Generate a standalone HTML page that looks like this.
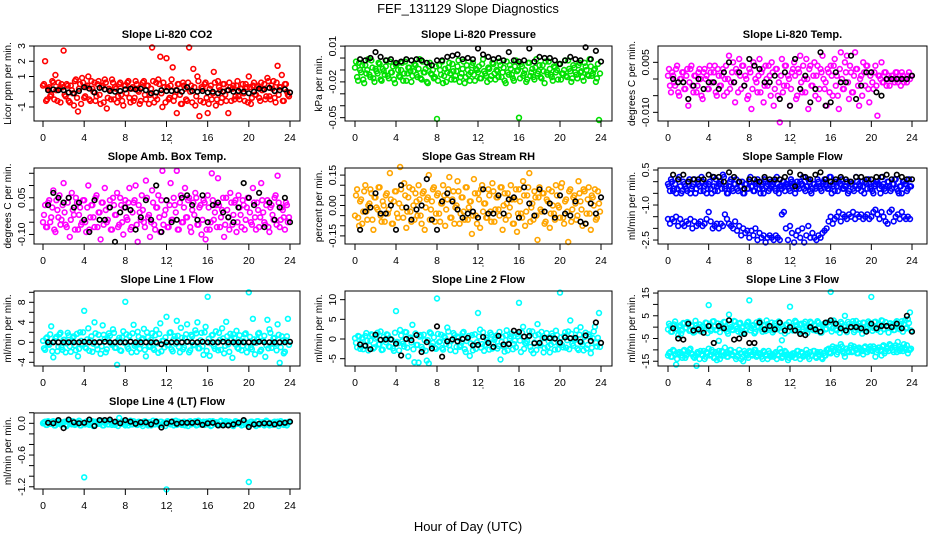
<!DOCTYPE html>
<html><head><meta charset="utf-8"><style>
html,body{margin:0;padding:0;background:#fff}
svg{display:block}
text{font-family:"Liberation Sans",Arial,sans-serif}
</style></head><body>
<svg id="c" width="936" height="540" viewBox="0 0 936 540" xmlns="http://www.w3.org/2000/svg">
<rect width="936" height="540" fill="#fff"/>
<text x="468" y="13" text-anchor="middle" font-size="13">FEF_131129  Slope Diagnostics</text>
<text x="468" y="531" text-anchor="middle" font-size="13">Hour of Day (UTC)</text>
</svg>
<script>
const xTicks=[0,4,8,12,16,20,24];
const panelTitles=["Slope Li-820 CO2","Slope Li-820 Pressure","Slope Li-820 Temp.","Slope Amb. Box Temp.","Slope Gas Stream RH","Slope Sample Flow","Slope Line 1 Flow","Slope Line 2 Flow","Slope Line 3 Flow","Slope Line 4 (LT) Flow"];
const yTitles=["Licor ppm per min.","kPa per min.","degrees C per min.","degrees C per min.","percent per min.","ml/min per min.","ml/min per min.","ml/min per min.","ml/min per min.","ml/min per min."];
const yTicks=[[3,2,1,0,-1],[0.01,0,-0.01,-0.02,-0.03,-0.04,-0.05],[0.005,0,-0.005,-0.010],[0.15,0.10,0.05,0,-0.05,-0.10],[0.15,0.10,0.05,0,-0.05,-0.10,-0.15],[0.5,0,-0.5,-1,-1.5,-2,-2.5],[10,8,6,4,2,0,-2,-4],[10,5,0,-5],[15,10,5,0,-5,-10,-15],[0.2,0,-0.2,-0.4,-0.6,-0.8,-1.0,-1.2]];
const yLabels=[['3','2','1','','-1'],['0.01','','','-0.02','','','-0.05'],['0.005','','','-0.010'],['','','0.05','','','-0.10'],['0.15','','','0.00','','','-0.15'],['0.5','','','-1.0','','','-2.5'],['','8','','4','','0','','-4'],['10','5','0','-5'],['15','','5','','-5','','-15'],['','0.0','','','-0.6','','','-1.2']];
const yLims=[[3.0,-1.92],[0.0101,-0.0528],[0.0099,-0.0126],[0.1716,-0.139],[0.185,-0.19],[0.586,-2.67],[10.26,-4.74],[12.2,-6.86],[15.9,-17.1],[0.195,-1.242]];

const co2=[0.4,2.0,-0.5,0.3,-0.2,0.6,1.1,-0.6,0.2,0.5,2.7,-0.3,0.4,-0.7,0.1,-0.9,0.8,-1.3,0.5,0.9,-0.4,0.3,1.0,-0.6,0.2,0.6,-0.3,0.7,-0.8,0.4,0.8,-1.1,0.2,-0.5,0.6,0.3,-0.7,0.5,-0.2,-0.9,0.4,0.6,-0.4,0.2,-0.6,0.7,0.1,-0.8,0.3,0.7,-0.5,0.4,-0.2,2.9,-0.7,0.6,0.8,2.3,-1.0,0.3,2.2,-0.5,0.4,1.6,-0.3,-1.4,0.5,-0.8,0.6,0.2,-0.6,2.9,0.4,1.5,-0.9,1.0,-1.6,0.3,-0.7,0.6,-1.4,0.2,-0.5,1.3,-0.9,0.7,0.1,-0.4,0.5,-0.6,-1.4,0.3,0.2,-0.5,0.4,-0.3,0.2,0.5,-0.6,0.3,1.0,-0.8,0.4,-0.2,0.3,-0.4,0.6,0.2,-0.5,0.9,-0.3,0.4,0.7,-0.7,1.7,0.3,1.1,-0.6,0.5,-0.2];
const co2B=[0.5,-0.6,0.2,-0.3,0.7,-0.5,0.1,0.6,-0.7,0.3,-0.2,0.5,-0.6,0.4,-0.1,0.7,-0.4,0.2,-0.8,0.6,-0.3,0.4,-0.5,0.7,0.0,-0.6,0.5,-0.2,0.3,-0.7,0.6,-0.4,0.1,0.8,-0.5,0.2,-0.3,0.6,-0.6,0.4,-0.1,0.7,-0.7,0.3,-0.4,0.5,0.0,-0.6,0.6,-0.2,0.4,-0.8,0.2,0.7,-0.3,-0.5,0.5,-0.1,0.6,-0.7,0.3,-0.4,0.8,-0.6,0.1,0.5,-0.2,-0.8,0.4,-0.5,0.6,0.0,-0.7,0.3,-0.3,0.7,-0.6,0.2,0.5,-0.4,-0.8,0.4,-0.1,0.6,-0.5,0.3,-0.7,0.5,-0.2,0.1,0.6,-0.6,0.4,-0.3,0.7,-0.5,0.2,-0.1,0.5,-0.7,0.3,-0.4,0.6,-0.2,0.4,-0.6,0.1,0.5,-0.3,0.7,-0.5,0.2,-0.4,0.6,-0.2,0.3,-0.6,0.5,0.0,-0.3];
const co2Avg=[0.1,0.15,0.1,0.1,-0.05,-0.1,0.05,0.3,0.2,-0.05,0.25,0.15,0.05,0.0,0.05,0.15,0.2,0.15,0.2,0.1,-0.1,-0.05,0.1,0.05,0.05,0.1,0.0,0.3,0.05,0.0,0.05,-0.05,0.0,-0.1,0.0,0.1,0.0,0.05,0.0,-0.1,0.0,0.2,0.15,0.25,0.05,0.1,0.15,-0.05];
const press=[-0.008,-0.016,-0.004,-0.012,-0.018,-0.006,-0.010,-0.014,-0.002,-0.017,-0.009,-0.013,-0.005,-0.019,-0.011,-0.007,-0.015,-0.003,-0.012,-0.018,-0.006,-0.010,-0.016,-0.004,-0.013,-0.019,-0.008,-0.011,-0.015,-0.005,-0.014,-0.009,-0.017,-0.003,-0.012,-0.020,-0.007,-0.013,-0.010,-0.016,-0.051,-0.006,-0.014,-0.021,-0.009,-0.012,-0.004,-0.018,-0.011,-0.015,-0.007,-0.020,-0.013,-0.003,-0.016,-0.010,-0.019,-0.006,-0.014,-0.009,-0.012,-0.017,-0.005,-0.011,-0.015,-0.008,-0.018,-0.004,-0.013,-0.010,-0.016,-0.006,-0.012,-0.019,-0.003,-0.014,-0.009,-0.017,-0.007,-0.011,-0.050,-0.005,-0.015,-0.010,-0.018,-0.004,-0.012,-0.016,-0.008,-0.013,-0.006,-0.017,-0.011,-0.003,-0.014,-0.009,-0.016,-0.007,-0.012,-0.018,-0.005,-0.013,-0.010,-0.015,-0.002,-0.011,-0.017,-0.008,-0.014,-0.006,-0.012,-0.016,-0.004,-0.010,-0.015,-0.007,-0.013,-0.009,-0.017,-0.052];
const pressB=[-0.003,-0.019,-0.010,-0.006,-0.021,-0.013,-0.001,-0.016,-0.008,-0.020,-0.011,-0.004,-0.018,-0.009,-0.014,-0.002,-0.017,-0.012,-0.007,-0.021,-0.005,-0.015,-0.010,-0.019,-0.003,-0.013,-0.008,-0.020,-0.011,-0.006,-0.016,-0.001,-0.018,-0.012,-0.009,-0.021,-0.004,-0.014,-0.017,-0.007,-0.019,-0.010,-0.003,-0.015,-0.020,-0.008,-0.013,-0.005,-0.018,-0.011,-0.002,-0.016,-0.009,-0.021,-0.006,-0.014,-0.012,-0.004,-0.019,-0.010,-0.007,-0.017,-0.001,-0.013,-0.020,-0.009,-0.015,-0.005,-0.018,-0.011,-0.003,-0.016,-0.008,-0.021,-0.012,-0.006,-0.014,-0.019,-0.002,-0.010,-0.017,-0.007,-0.013,-0.020,-0.004,-0.015,-0.009,-0.018,-0.001,-0.011,-0.016,-0.006,-0.021,-0.012,-0.003,-0.014,-0.019,-0.008,-0.010,-0.005,-0.018,-0.013,-0.002,-0.016,-0.009,-0.020,-0.006,-0.012,-0.017,-0.004,-0.011,-0.019,-0.007,-0.014,-0.001,-0.015,-0.010,-0.020,-0.005,-0.013];
const pressAvg=[-0.001,-0.002,0.000,0.005,0.001,-0.002,-0.001,-0.004,-0.003,-0.001,-0.002,-0.001,-0.002,-0.004,-0.006,-0.002,-0.002,0.001,0.002,0.003,-0.001,0.000,-0.001,0.008,0.003,0.001,-0.001,0.000,-0.002,0.005,-0.002,-0.003,-0.002,0.008,-0.003,0.001,0.000,0.000,-0.002,-0.005,-0.002,0.001,-0.001,-0.002,0.009,-0.001,0.006,-0.003];
const temp=[0.001,-0.002,0.002,-0.001,0.003,-0.004,0.000,0.002,-0.003,0.001,-0.008,0.003,-0.002,0.001,-0.004,0.002,0.000,-0.006,0.003,0.001,-0.003,0.002,-0.001,0.004,-0.005,0.001,-0.002,0.003,0.000,-0.004,0.007,-0.001,0.005,-0.007,0.002,0.006,-0.003,0.004,0.001,-0.006,0.003,-0.009,0.005,0.000,-0.004,0.006,0.002,-0.007,0.004,-0.002,0.001,0.005,-0.008,0.003,-0.005,-0.013,0.006,-0.002,0.004,0.001,-0.008,0.002,0.005,-0.006,0.003,0.007,-0.004,0.000,0.006,-0.009,0.004,-0.002,0.005,0.001,-0.006,0.003,0.007,-0.003,-0.008,0.002,0.004,-0.005,0.006,0.001,-0.009,0.008,-0.003,0.005,0.007,-0.006,0.002,-0.004,0.008,0.003,-0.008,0.001,0.005,-0.002,0.004,-0.007,0.002,-0.003,0.004,-0.011,0.001,0.005,-0.001,0.002,0.000,-0.002,0.001,0.000,0.002,-0.001,0.001,0.002,-0.001,0.000,0.001,0.000];
const tempB=[0.003,-0.004,0.001,-0.002,0.004,-0.005,0.000,0.002,-0.003,0.003,-0.001,0.004,-0.004,0.001,-0.002,0.003,-0.005,0.002,0.000,-0.003,0.004,-0.001,0.002,-0.004,0.003,-0.002,0.001,-0.005,0.004,0.000,-0.003,0.002,-0.001,0.003,-0.004,0.001,0.004,-0.002,0.000,-0.005,0.002,-0.003,0.004,-0.001,0.001,-0.004,0.003,-0.002,0.000,0.004,-0.005,0.002,-0.003,0.003,-0.001,0.001,-0.004,0.004,-0.002,0.000,-0.003,0.003,0.001,-0.005,0.002,-0.001,0.004,-0.004,0.000,0.003,-0.002,0.001,-0.005,0.004,-0.003,0.002,0.000,-0.001,0.003,-0.004,0.001,0.004,-0.002,-0.005,0.003,0.000,-0.003,0.002,-0.001,0.004,-0.004,0.001,0.003,-0.002,0.000,-0.005,0.002,0.004,-0.003,0.001,-0.001,0.002,-0.002,0.001,0.000,-0.001,0.002,-0.002,0.001,0.000,0.001,-0.001,0.002,0.000,-0.002,0.001,0.000,-0.001,0.002,0.001];
const tempAvg=[0.000,-0.001,-0.001,-0.006,-0.002,0.000,-0.003,-0.001,-0.001,-0.003,0.002,0.005,-0.001,0.002,-0.002,0.006,0.004,0.003,-0.001,-0.001,0.001,-0.006,0.002,-0.008,0.006,-0.003,0.001,-0.007,-0.003,0.008,-0.008,-0.007,0.002,-0.001,-0.001,0.007,-0.006,-0.002,0.002,0.002,-0.004,-0.005,0.000,0.000,0.000,0.000,0.000,0.001];
const amb=[-0.05,0.02,-0.07,0.04,-0.03,0.08,-0.09,0.00,0.06,-0.04,0.11,-0.06,0.03,-0.11,0.07,-0.02,0.05,-0.08,0.01,-0.05,0.04,-0.09,0.10,-0.03,0.02,-0.07,0.06,-0.01,-0.12,0.03,0.09,-0.05,0.01,-0.08,0.05,-0.02,0.07,-0.06,0.02,-0.10,0.04,-0.04,0.09,-0.07,0.03,0.10,-0.13,-0.01,0.06,-0.05,0.12,-0.03,-0.11,0.08,-0.06,0.01,0.06,-0.09,0.16,-0.02,0.04,-0.07,0.11,-0.04,0.02,0.16,-0.08,0.06,-0.05,0.09,-0.03,0.05,-0.09,0.03,0.07,-0.06,0.01,-0.10,0.04,-0.12,0.06,-0.08,0.15,-0.04,0.02,0.13,-0.07,0.00,-0.11,0.05,-0.03,0.07,-0.06,0.03,-0.09,0.06,-0.02,0.04,-0.08,0.01,0.05,-0.05,0.09,-0.03,0.03,-0.07,0.11,-0.01,-0.06,0.04,-0.09,0.02,-0.04,0.06,0.14,-0.07,0.01,-0.03,0.03,-0.05];
const ambB=[-0.02,-0.07,0.03,-0.05,0.01,-0.08,0.04,-0.03,-0.06,0.02,-0.01,-0.07,0.05,-0.04,0.00,-0.08,0.03,-0.02,-0.06,0.04,-0.05,0.01,-0.08,0.02,-0.03,0.05,-0.07,-0.01,0.03,-0.06,0.00,-0.04,0.04,-0.08,0.02,-0.02,-0.07,0.05,-0.05,0.01,-0.03,0.03,-0.08,-0.01,0.04,-0.06,0.02,-0.04,0.00,-0.07,0.05,-0.02,-0.05,0.03,-0.08,0.01,-0.03,0.04,-0.06,0.00,-0.07,0.02,-0.04,0.05,-0.01,-0.08,0.03,-0.05,0.01,-0.03,0.04,-0.07,0.00,-0.02,0.05,-0.06,0.02,-0.04,0.03,-0.08,0.01,-0.05,0.04,-0.01,-0.07,0.02,-0.03,0.05,-0.06,0.00,-0.08,0.03,-0.02,0.04,-0.05,0.01,-0.07,0.02,-0.04,0.05,-0.01,-0.06,0.03,-0.08,0.00,-0.03,0.04,-0.05,0.02,-0.07,0.01,-0.02,0.05,-0.06,0.03,-0.04,0.00,-0.08,0.02,-0.03];
const ambAvg=[0.02,0.07,0.05,0.03,0.05,0.01,0.03,-0.04,-0.09,0.04,-0.04,-0.04,0.01,-0.13,-0.01,0.01,0.00,-0.08,-0.03,0.04,-0.04,0.10,-0.09,0.04,-0.05,-0.04,0.05,0.06,0.02,-0.04,0.06,-0.05,0.02,0.03,-0.01,-0.03,-0.05,0.01,0.11,0.05,0.02,0.07,-0.07,0.03,-0.04,0.01,0.05,-0.05];
const rh=[-0.05,0.08,-0.10,0.03,-0.03,0.10,-0.07,0.01,0.06,-0.12,0.04,-0.02,0.09,-0.08,0.00,0.05,-0.04,0.16,-0.09,0.02,0.07,-0.06,0.19,-0.01,0.11,-0.11,0.04,-0.03,0.08,-0.07,0.02,0.10,-0.05,0.06,-0.12,0.03,0.15,-0.02,0.08,-0.08,0.05,-0.04,0.01,0.10,-0.10,0.03,0.14,-0.06,0.07,-0.01,0.12,-0.09,0.04,-0.03,0.09,-0.07,0.02,-0.14,0.13,-0.05,0.06,-0.11,0.10,0.01,-0.06,0.08,-0.03,0.11,-0.08,0.04,-0.02,0.09,-0.12,0.06,0.01,-0.05,0.10,-0.09,0.03,-0.13,0.08,-0.04,0.12,-0.10,0.05,0.16,-0.01,-0.07,0.04,-0.17,0.09,-0.03,0.06,-0.08,0.02,-0.11,0.07,-0.04,0.10,0.00,-0.06,0.11,-0.09,0.03,-0.18,0.08,-0.02,0.05,-0.07,0.12,0.02,-0.10,0.07,-0.04,0.09,-0.12,0.04,0.08,-0.06,0.01];
const rhB=[0.05,-0.06,0.02,-0.09,0.07,-0.03,0.00,0.08,-0.07,0.04,-0.01,0.09,-0.05,0.02,-0.08,0.06,-0.02,0.03,-0.09,0.07,-0.04,0.01,0.08,-0.06,0.05,-0.03,0.09,-0.08,0.00,0.06,-0.05,0.03,-0.09,0.07,-0.01,0.04,-0.07,0.02,0.09,-0.04,0.06,-0.08,0.01,0.05,-0.02,0.08,-0.06,0.03,-0.09,0.00,0.07,-0.04,0.04,-0.07,0.09,-0.01,0.02,-0.05,0.06,-0.09,0.03,0.08,-0.03,0.01,-0.06,0.05,-0.08,0.07,-0.02,0.04,-0.05,0.09,0.00,-0.07,0.06,-0.01,0.03,-0.09,0.08,-0.04,0.02,-0.06,0.05,-0.03,0.09,-0.08,0.01,0.07,-0.05,0.04,-0.02,0.06,-0.09,0.03,0.08,-0.04,0.00,-0.07,0.05,-0.01,0.09,-0.06,0.02,-0.03,0.07,-0.08,0.04,0.01,-0.05,0.06,-0.02,0.08,-0.09,0.03,-0.04,0.05,0.00,-0.07,0.07,-0.03];
const rhAvg=[-0.12,-0.03,-0.01,0.06,-0.04,-0.04,0.00,-0.12,0.10,-0.01,-0.07,-0.02,0.00,0.13,-0.07,-0.12,0.02,0.06,0.02,-0.02,-0.06,-0.04,-0.03,-0.06,0.08,-0.04,-0.04,0.05,-0.04,0.03,0.04,-0.06,0.09,0.01,-0.05,0.08,-0.03,0.01,-0.06,0.05,-0.04,-0.05,0.02,-0.08,-0.09,0.01,-0.04,0.04];
const sampleHi=[-0.1,-0.4,0.0,-0.3,-0.5,0.1,-0.2,-0.4,-0.1,-0.3,0.0,-0.5,-0.2,0.1,-0.3,-0.1,-0.4,0.0,-0.2,-0.5,-0.1,-0.3,0.2,-0.4,-0.2,-0.1,0.0,0.3,-0.3,-0.5,-0.2,0.1,-0.4,-0.1,-0.3,0.0,-0.2,-0.5,-0.1,-0.3,0.0,-0.2,-0.4,-0.1,0.1,-0.3,-0.2,-0.5,0.0,-0.1,-0.3,-0.2,0.0,-0.4,-0.1,-0.2,-0.3,0.0,-0.1,-0.2,-0.4,0.0,-0.1,-0.3,-0.2,0.0,-0.1,-0.3,-0.2,0.1,-0.4,-0.3,-0.1,-0.2,0.0,-0.3,-0.1,0.1,-0.2,-0.3,0.2,-0.1,-0.4,-0.2,0.0,-0.1,-0.3,-0.2,0.0,-0.4,-0.1,-0.3,-0.2,0.0,-0.1,-0.4,-0.2,0.0,-0.3,-0.1,-0.2,-0.5,-0.1,0.0,-0.3,-0.2,-0.1,-0.4,0.0,-0.2,-0.3,-0.1,0.1,-0.4,-0.2,-0.5,0.0,-0.1,-0.3,-0.2];
const sampleHiB=[-0.2,0.1,-0.4,-0.1,-0.3,0.2,-0.5,0.0,-0.2,-0.4,0.1,-0.3,-0.1,-0.5,0.0,-0.2,0.2,-0.4,-0.1,-0.3,0.0,-0.5,-0.2,0.1,-0.4,-0.1,-0.3,0.2,-0.2,-0.5,0.0,-0.3,-0.1,0.1,-0.4,-0.2,0.0,-0.5,-0.1,-0.3,0.2,-0.2,-0.4,0.0,-0.1,-0.5,-0.3,0.1,-0.2,-0.4,0.0,-0.1,-0.3,0.2,-0.5,-0.2,0.0,-0.4,-0.1,-0.3,0.1,-0.2,-0.5,0.0,-0.3,-0.1,0.2,-0.4,-0.2,0.0,-0.5,-0.1,-0.3,0.1,-0.2,-0.4,0.0,-0.1,-0.3,0.2,-0.5,-0.2,0.0,-0.4,-0.1,0.1,-0.3,-0.2,-0.5,0.0,-0.1,-0.4,0.2,-0.3,-0.2,0.0,-0.5,-0.1,0.1,-0.3,-0.4,-0.2,0.0,-0.1,-0.5,0.2,-0.3,-0.2,0.0,-0.4,-0.1,0.1,-0.3,-0.5,-0.2,0.0,-0.1,-0.4,0.1,-0.2];
const sampleLo=[-1.6,-1.8,-1.6,-1.7,-1.5,-1.9,-1.6,-1.8,-1.9,-1.7,-1.8,-1.6,-2.0,-1.7,-1.9,-1.8,-1.7,-1.9,-1.8,-1.6,-1.3,-1.7,-2.0,-1.9,-1.8,-2.0,-1.8,-1.9,-1.4,-1.6,-1.8,-1.9,-2.0,-1.7,-2.1,-1.9,-2.3,-2.0,-2.2,-2.1,-2.4,-2.1,-2.3,-2.0,-2.5,-2.2,-2.4,-2.3,-2.6,-2.4,-2.3,-2.4,-2.5,-2.3,-2.4,-2.5,-1.4,-1.3,-2.0,-2.5,-1.9,-2.2,-2.6,-2.3,-2.1,-2.4,-2.0,-2.6,-2.3,-1.9,-2.4,-2.2,-2.4,-2.5,-2.3,-2.4,-2.2,-2.1,-2.0,-1.7,-1.5,-1.8,-1.6,-1.5,-1.3,-1.7,-1.4,-1.5,-1.6,-1.4,-1.5,-1.3,-1.6,-1.4,-1.5,-1.4,-1.6,-1.5,-1.4,-1.6,-1.5,-1.3,-1.2,-1.4,-1.6,-1.3,-1.5,-1.7,-1.8,-1.3,-1.2,-1.7,-1.5,-1.4,-1.6,-1.3,-1.5,-1.6,-1.5,-1.6];
const sampleAvg=[0.3,0.1,0.3,0.0,0.1,0.1,0.1,0.3,0.2,0.2,0.0,0.4,0.2,0.0,-0.3,0.1,0.1,0.0,0.2,0.1,0.1,0.1,0.2,0.4,-0.2,0.3,0.2,0.1,0.3,0.4,0.1,0.0,0.1,0.2,0.1,0.0,0.2,0.2,0.1,0.1,0.2,0.2,0.3,0.1,0.3,0.2,0.1,0.1];
const line1=[0.3,-1.5,1.0,-0.5,3.2,-3.0,0.8,-1.8,1.6,-1.0,0.5,-2.0,1.9,-0.8,0.2,1.2,-1.6,-2.8,2.0,-0.3,6.3,-1.2,2.8,0.4,-1.9,4.0,-0.6,1.5,-2.3,3.4,0.7,-1.4,1.8,-0.2,2.6,-1.1,-4.5,0.9,-1.7,2.2,8.1,-0.9,1.3,-2.0,3.5,-0.4,2.1,-1.3,0.6,2.7,-2.8,1.0,-0.7,1.8,-1.5,2.5,-2.1,3.8,0.3,-1.0,5.1,-0.5,2.0,-1.8,1.2,4.3,-0.9,2.9,-1.4,0.8,3.6,-2.0,1.5,-0.6,2.4,4.0,-1.2,1.9,-2.5,3.1,9.1,-2.7,1.4,-0.8,2.2,-1.6,0.5,2.8,-2.2,4.1,-0.4,1.7,-3.1,0.9,2.3,-1.3,0.2,-0.7,1.6,-2.0,10.0,-1.0,4.7,-2.4,0.6,1.9,-1.5,0.3,-2.9,4.5,2.6,-1.1,0.8,-0.3,3.6,-4.1,1.2,-2.2,0.4,4.7];
const line1B=[-1.2,0.8,-0.4,1.6,-1.8,0.2,1.1,-0.9,1.9,-1.5,0.5,-0.2,1.4,-1.9,0.9,-0.6,1.7,-1.3,0.3,2.0,-1.0,0.6,-1.7,1.2,-0.3,1.8,-1.4,0.1,-0.8,1.5,-2.0,0.7,1.3,-0.5,1.9,-1.1,0.4,-1.6,1.0,-0.1,1.6,-1.3,0.2,1.8,-0.7,-1.9,1.1,-0.4,0.8,-1.5,2.0,-0.9,0.5,-1.2,1.4,-0.2,1.7,-1.8,0.3,1.0,-0.6,1.9,-1.4,0.6,-0.3,1.3,-2.0,0.9,-1.0,1.6,0.1,-1.6,1.2,-0.5,1.8,-1.2,0.4,-0.8,2.0,-1.7,0.7,-0.2,1.5,-1.3,0.0,1.9,-1.5,0.8,-0.7,1.2,-1.9,0.5,1.6,-0.4,-1.1,1.4,-1.6,0.2,1.8,-0.9,1.1,-1.4,0.6,-0.1,1.7,-1.8,0.3,1.3,-0.6,-1.2,1.9,-0.3,0.9,-1.6,1.5,-1.0,0.4,-1.9,1.2,-0.5];
const line1Avg=[0.0,0.0,0.0,0.0,0.0,0.0,0.0,0.1,0.0,0.0,0.0,0.1,0.0,0.0,0.0,0.0,0.1,0.0,0.0,0.0,0.0,0.0,-0.4,0.0,0.0,0.0,0.0,0.1,0.0,0.0,0.1,0.0,0.0,0.0,0.1,0.0,0.0,0.0,0.0,0.0,0.0,0.1,0.0,0.0,0.0,0.0,0.0,0.1];
const line2=[0.2,-2.1,0.6,-1.0,-2.6,0.8,-0.4,-1.7,1.2,-2.4,0.1,1.6,-1.3,-2.8,0.5,-0.8,1.0,-2.0,-0.2,-3.0,7.1,-1.1,2.3,-0.6,-1.9,1.7,-4.4,0.4,3.6,-5.9,-1.5,-6.0,1.0,-2.6,-0.3,-5.5,-6.2,1.4,-1.0,-2.2,10.3,-0.8,1.1,-2.7,0.3,2.9,-1.6,-0.5,1.5,-3.1,0.6,-2.0,-0.9,1.8,-3.3,0.2,-4.3,1.0,-1.4,-2.5,6.6,2.4,-1.3,-3.0,0.4,-0.7,1.6,-2.4,-0.2,0.9,-1.8,-5.2,0.5,-3.2,2.2,-1.1,0.7,-2.6,-0.4,1.3,9.2,-3.3,3.1,-1.0,-0.6,2.0,-2.9,-3.6,0.9,3.8,-1.2,1.8,-3.4,0.2,-2.0,-3.4,1.4,-0.9,2.1,-2.6,11.8,-1.5,0.8,-2.2,1.9,4.7,-1.2,-0.3,2.2,-2.8,3.0,-1.4,0.5,-2.4,1.2,-3.6,0.2,3.1,-1.9,6.6];
const line2B=[-1.0,0.8,-2.5,0.3,-1.7,1.5,-2.9,-0.4,1.0,-2.1,0.5,-1.4,1.9,-2.7,-0.2,1.2,-1.9,0.0,-2.4,1.6,-0.7,-2.9,0.9,-1.2,1.8,-2.2,0.2,-0.9,-2.6,1.4,-1.5,0.6,-2.0,1.1,-3.0,-0.3,1.7,-1.8,0.4,-2.5,1.3,-0.6,-2.3,0.7,-1.3,1.9,-2.8,-0.1,1.0,-2.0,0.3,-1.6,1.5,-2.6,-0.5,0.8,-1.1,-2.9,1.2,-0.8,0.6,-2.2,1.7,-1.5,-0.2,-2.7,1.1,-1.0,0.4,-2.4,1.8,-0.7,-1.9,0.9,-2.9,0.1,1.4,-1.3,-2.1,0.7,-0.4,1.6,-2.5,-1.1,0.5,-2.0,1.9,-0.9,-2.8,1.2,-1.6,0.2,-2.3,1.5,-0.6,-1.4,0.8,-2.7,1.0,-1.2,0.4,-2.1,1.7,-0.3,-2.6,1.3,-1.7,0.0,-2.4,1.1,-0.8,-2.9,1.6,-1.5,0.6,-2.2,1.9,-1.0,0.3,-2.0];
const line2Avg=[-1.4,-1.7,-2.6,1.1,-0.2,-0.1,-0.1,-1.2,-4.2,0.0,-0.3,1.0,-3.3,-0.8,-2.4,3.2,-4.5,-0.6,-0.1,-0.6,0.0,0.3,-1.6,-1.5,0.5,-1.0,-2.0,0.8,-1.4,-1.3,2.1,1.8,0.6,0.8,-1.1,-1.0,0.3,0.2,0.1,-0.9,0.4,0.2,0.3,-0.7,0.9,-0.5,4.2,-1.0];
const line3Hi=[-1.0,0.5,-2.0,1.2,-0.5,-3.5,0.8,-1.5,1.6,-0.2,2.0,-1.2,0.4,-2.2,1.0,-0.8,-1.8,0.6,-0.4,1.8,9.7,-1.6,2.5,0.3,-1.1,-6.0,1.4,-0.6,2.2,-1.9,5.5,0.0,-1.3,2.5,-0.7,1.5,-2.5,0.2,-1.4,2.0,11.8,-0.3,1.0,-2.1,0.5,2.7,-1.0,0.8,-1.7,1.3,-0.4,2.0,-1.5,0.6,-0.9,1.8,-5.8,-0.5,1.1,-1.8,9.0,0.4,-1.2,2.2,-0.6,0.9,-1.9,1.5,0.0,-1.0,2.4,-0.8,1.2,-1.6,2.0,-2.4,0.6,1.6,-0.7,2.1,15.5,-0.5,1.9,-1.4,0.7,2.3,-1.0,5.0,-2.2,1.4,-0.2,2.6,-1.3,0.9,1.7,-0.9,2.0,-1.6,0.5,1.8,13.3,-0.4,2.4,-1.2,1.0,3.0,-0.8,2.2,-0.2,1.6,0.8,-1.3,2.0,0.3,-0.9,2.6,1.2,-0.6,3.5,6.5];
const line3HiB=[1.5,-2.0,0.5,2.5,-1.0,0.0,-2.8,1.8,-0.5,2.2,-1.6,0.8,-2.4,2.8,-0.2,1.2,-1.8,0.3,2.0,-2.6,0.9,-0.8,2.6,-1.3,1.6,-2.2,0.1,2.3,-0.6,-2.9,1.3,-1.1,2.7,0.4,-1.9,1.9,-0.4,-2.5,1.0,2.4,-1.4,0.6,-2.7,2.1,-0.1,1.4,-2.0,0.9,2.9,-1.2,0.2,-2.3,1.7,-0.7,2.5,-1.7,0.5,-2.8,1.1,2.2,-0.3,-1.5,2.8,0.7,-2.1,1.5,-0.9,2.4,-2.6,0.0,1.8,-1.3,0.6,2.6,-0.5,-2.4,1.2,-1.0,2.1,0.3,-1.9,2.9,-0.8,1.0,-2.5,1.6,0.2,-1.4,2.3,-0.3,1.3,-2.2,2.7,-1.1,0.4,-2.9,1.9,-0.6,2.5,0.8,-1.6,2.2,-0.4,1.1,-2.1,2.8,-0.9,0.5,-2.4,1.7,0.0,-1.2,2.6,-0.7,1.4,-2.0,3.0,-0.2,1.8,-1.5];
const line3Lo=[-12.5,-11.0,-13.0,-10.5,-16.5,-12.0,-11.5,-13.5,-10.0,-12.5,-11.0,-9.5,-12.0,-13.5,-17.0,-11.5,-10.5,-12.5,-14.0,-11.0,-9.5,-12.0,-11.0,-13.5,-14.5,-10.5,-12.5,-11.0,-9.0,-13.0,-11.5,-10.0,-12.5,-11.0,-13.0,-10.0,-14.0,-15.0,-11.5,-12.5,-10.5,-12.0,-11.0,-10.0,-12.5,-11.5,-13.0,-10.5,-12.0,-14.0,-11.5,-12.5,-13.0,-11.0,-12.0,-9.5,-13.5,-12.0,-11.0,-14.5,-12.5,-13.0,-11.5,-12.0,-10.5,-14.0,-11.5,-12.5,-10.0,-13.0,-11.0,-12.5,-10.5,-13.5,-12.0,-11.0,-14.0,-12.5,-10.0,-9.5,-11.5,-8.5,-10.0,-12.0,-9.0,-7.5,-10.5,-13.0,-9.5,-11.0,-8.0,-10.5,-9.5,-11.5,-9.0,-10.0,-12.0,-8.5,-11.0,-9.5,-10.0,-8.5,-13.0,-10.0,-9.0,-12.5,-8.0,-10.5,-9.5,-7.5,-9.0,-11.0,-8.0,-6.5,-10.5,-9.0,-7.5,-10.0,-11.5,-10.0];
const line3LoB=[-11.5,-13.0,-10.0,-12.0,-14.0,-11.0,-12.5,-10.5,-13.5,-12.0,-10.0,-11.5,-13.0,-12.5,-11.0,-14.0,-12.0,-10.5,-13.0,-11.5,-12.5,-10.0,-13.5,-11.0,-12.0,-14.0,-10.5,-12.5,-11.5,-13.0,-10.0,-12.0,-11.0,-14.0,-12.5,-11.5,-13.0,-10.5,-12.0,-13.5,-11.0,-12.5,-10.0,-13.0,-11.5,-12.0,-14.0,-11.0,-12.5,-10.5,-13.0,-12.0,-11.5,-14.0,-12.5,-11.0,-13.0,-10.5,-12.0,-13.5,-12.0,-11.5,-13.5,-10.5,-12.5,-11.0,-13.0,-12.0,-11.5,-14.0,-12.5,-10.5,-13.0,-11.0,-12.0,-13.5,-11.5,-12.5,-10.0,-11.0,-9.5,-10.5,-9.0,-11.0,-10.0,-8.5,-11.5,-9.5,-10.5,-9.0,-11.0,-8.5,-10.0,-11.5,-9.5,-10.5,-9.0,-11.0,-10.0,-8.5,-10.5,-9.5,-11.0,-9.0,-10.0,-8.5,-11.5,-9.5,-10.5,-8.0,-10.0,-9.0,-11.0,-8.5,-9.5,-10.5,-9.0,-8.0,-10.0,-9.5];
const line3Avg=[-0.5,-5,-5.5,1.5,-1.5,-1,-2.5,0.5,-7,0.5,-0.5,3,-5.5,-5,-3,-7,-7,2,-1,0.5,-1,2,-1.5,0,-1.5,-3,-3.5,0,-1,-2,2,3,1.5,-0.5,-1.5,0,0,-0.5,-2,1.5,-0.5,0.5,0.5,0,1.5,-0.5,5,-2];
const line4=[0.00,0.03,-0.03,0.02,-0.01,0.04,-0.04,0.01,0.03,-0.02,0.02,-0.03,0.04,0.00,-0.02,0.03,-0.01,0.02,-0.04,0.01,-1.02,0.03,-0.02,0.00,0.04,-0.03,0.02,-0.01,0.03,-0.04,0.01,0.04,-0.02,0.02,0.00,-0.03,0.03,0.10,-0.01,0.02,-0.04,0.03,0.01,-0.02,0.04,0.00,-0.03,0.02,-0.01,0.03,0.01,-0.04,0.02,0.00,-0.02,0.04,-0.01,0.03,-0.03,0.01,-1.25,0.02,-0.02,0.04,0.00,-0.03,0.03,-0.01,0.02,-0.04,0.01,0.03,-0.02,0.00,0.04,-0.03,0.02,-0.01,0.03,0.00,-0.02,0.04,-0.04,0.01,0.02,-0.01,0.03,-0.03,0.00,0.04,-0.02,0.02,-0.04,0.01,0.03,-0.01,0.00,-0.03,0.02,-0.02,-1.11,0.03,0.00,-0.02,0.04,-0.03,0.01,0.02,-0.01,0.03,-0.04,0.00,0.02,-0.02,0.03,-0.01,0.01,-0.03,0.02,0.00];
const line4B=[0.02,-0.03,0.04,-0.01,0.03,-0.04,0.01,0.05,-0.02,0.00,0.03,-0.05,0.02,-0.01,0.04,-0.03,0.00,0.05,-0.04,0.01,-0.02,0.04,-0.03,0.02,-0.05,0.03,0.00,-0.01,0.05,-0.04,0.02,-0.02,0.04,-0.03,0.01,0.03,-0.05,0.00,0.04,-0.01,0.02,-0.04,0.05,-0.02,0.01,-0.03,0.03,0.00,-0.05,0.04,-0.01,0.02,-0.04,0.05,-0.02,0.01,-0.03,0.03,0.00,-0.05,0.04,-0.01,0.02,-0.04,0.05,-0.02,0.01,-0.03,0.03,0.00,-0.05,0.04,-0.01,0.02,-0.04,0.05,-0.02,0.01,-0.03,0.03,0.00,-0.05,0.04,-0.01,0.02,-0.04,0.05,-0.02,0.01,-0.03,0.03,0.00,-0.05,0.04,-0.01,0.02,-0.04,0.05,-0.02,0.01,-0.03,0.03,0.00,-0.05,0.04,-0.01,0.02,-0.04,0.05,-0.02,0.01,-0.03,0.03,0.00,-0.05,0.04,-0.01,0.02,-0.04,0.03];
const line4Avg=[0.01,0.00,0.06,-0.09,0.07,0.02,0.00,0.01,0.07,-0.05,0.06,0.06,0.07,0.03,0.00,0.06,0.03,-0.01,0.02,0.02,-0.02,0.03,-0.08,0.00,0.03,-0.01,0.01,0.01,0.01,0.02,-0.03,0.00,0.01,-0.04,-0.04,-0.04,-0.02,0.01,0.06,-0.07,-0.02,-0.01,0.00,0.00,-0.02,0.00,0.01,0.03];

const rawSeries=[[co2,co2B],[press,pressB],[temp,tempB],[amb,ambB],[rh,rhB],[sampleHi,sampleHiB,sampleLo],[line1,line1B],[line2,line2B],[line3Hi,line3HiB,line3Lo,line3LoB],[line4,line4B]];
const avgSeries=[co2Avg,pressAvg,tempAvg,ambAvg,rhAvg,sampleAvg,line1Avg,line2Avg,line3Avg,line4Avg];
const colors=["#ff0000","#00e000","#ff00ff","#ff00ff","#ffa500","#0000ff","#00ffff","#00ffff","#00ffff","#00ffff"];

const NS="http://www.w3.org/2000/svg";
const svg=document.getElementById('c');
const colL=[34,345,658],colR=[300,612,927],colX0=[43,355,668],colX24=[290,601,912];
const rowT=[46,168,291,413],rowB=[121,244,366,489];
function mk(tag,attrs,parent){const e=document.createElementNS(NS,tag);for(const k in attrs)e.setAttribute(k,attrs[k]);(parent||svg).appendChild(e);return e;}

panelTitles.forEach((title,p)=>{
  const c=p%3,r=Math.floor(p/3);
  const L=colL[c],R=colR[c],T=rowT[r],B=rowB[r];
  const xs=h=>colX0[c]+(colX24[c]-colX0[c])*h/24;
  const [ytop,ybot]=yLims[p];
  const ys=v=>T+(ytop-v)/(ytop-ybot)*(B-T);
  const g=mk('g',{});
  
  
  const t=mk('text',{x:(L+R)/2,y:T-8,'text-anchor':'middle','font-size':'11','font-weight':'bold'},g);
  t.textContent=title;
  
  
  const pts=mk('g',{fill:'none','stroke-width':'1.6'},g);
  
  
  rawSeries[p].forEach((arr,si)=>{
    const off=(arr===co2B||arr===pressB||arr===tempB||arr===ambB||arr===rhB||arr===sampleHiB||arr===line1B||arr===line2B||arr===line3HiB||arr===line3LoB||arr===line4B)?0.5:0;
    arr.forEach((v,i)=>{
      const ci=mk('circle',{cx:xs((i+off)*24/arr.length).toFixed(1),cy:ys(v).toFixed(1),r:2.4,stroke:colors[p]},pts);
      
      
    });
  });
  const av=mk('g',{fill:'none','stroke-width':'1.6'},g);
  
  
  avgSeries[p].forEach((v,j)=>{
    const ci=mk('circle',{cx:xs(0.5+j*0.5).toFixed(1),cy:ys(v).toFixed(1),r:2.3,stroke:'#000'},av);
    
    
  });
  const box=mk('rect',{x:L,y:T,width:R-L,height:B-T,fill:'none',stroke:'#000','stroke-width':'1'},g);
  
  
  const xa=mk('g',{},g);
  
  
  mk('line',{x1:xs(0),x2:xs(24),y1:B,y2:B,stroke:'#000'},xa);
  xTicks.forEach(h=>{
    mk('line',{x1:xs(h),x2:xs(h),y1:B,y2:B+6,stroke:'#000'},xa);
    const lt=mk('text',{x:xs(h),y:B+20,'text-anchor':'middle','font-size':'10.5'},xa);
    lt.textContent=h;
    
    
  });
  mk('circle',{cx:xs(12)+5,cy:B+22,r:0.6,fill:'#000'},xa);
  const ya=mk('g',{},g);
  
  
  const tk=yTicks[p];
  mk('line',{x1:L,x2:L,y1:ys(tk[0]),y2:ys(tk[tk.length-1]),stroke:'#000'},ya);
  tk.forEach((v,k)=>{
    const y=ys(v);
    mk('line',{x1:L-5,x2:L,y1:y,y2:y,stroke:'#000'},ya);
    if(yLabels[p][k]){
      const lt=mk('text',{x:0,y:0,'text-anchor':'middle','font-size':'10.5',transform:`translate(${L-9},${y}) rotate(-90)`},ya);
      lt.textContent=yLabels[p][k];
      
      
    }
  });
  const yt=mk('text',{x:0,y:0,'text-anchor':'middle','font-size':'10',transform:`translate(${L-23},${(T+B)/2}) rotate(-90)`},ya);
  yt.textContent=yTitles[p];
  
  
});
</script>
</body></html>
